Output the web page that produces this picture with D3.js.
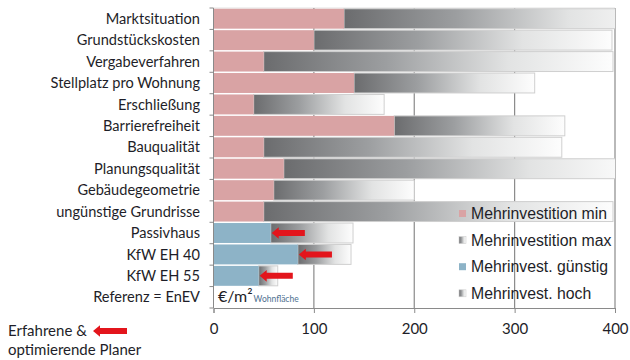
<!DOCTYPE html>
<html>
<head>
<meta charset="utf-8">
<script src="https://cdn.jsdelivr.net/npm/d3@7"></script>
<style>
  html, body { margin: 0; padding: 0; background: #fff; }
  svg { display: block; }
</style>
</head>
<body>
<svg id="chart" width="630" height="360"></svg>
<script>
// Categories, top to bottom
const categories = [
  "Marktsituation", "Grundstückskosten", "Vergabeverfahren", "Stellplatz pro Wohnung",
  "Erschließung", "Barrierefreiheit", "Bauqualität", "Planungsqualität",
  "Gebäudegeometrie", "ungünstige Grundrisse", "Passivhaus", "KfW EH 40",
  "KfW EH 55", "Referenz = EnEV"
];
// Extra cost in €/m² living area (upper end of each bar)
const costMinCats = categories.slice(0, 10);
const costMin  = [130, 100, 50, 140, 40, 180, 50, 70, 60, 50];
const costMax  = [450, 397, 398, 320, 170, 350, 347, 420, 200, 398];
const energyCats = ["Passivhaus", "KfW EH 40", "KfW EH 55"];
const costLow  = [57, 84, 45];
const costHigh = [139, 137, 64];
// Where experienced, optimising planners start from (arrow tail)
const plannerFrom = [91, 118, 79];
const xTicks = [0, 100, 200, 300, 400];

const legendItems = [
  { label: "Mehrinvestition min", kind: "pink" },
  { label: "Mehrinvestition max", kind: "grad" },
  { label: "Mehrinvest. günstig", kind: "blue" },
  { label: "Mehrinvest. hoch", kind: "grad" }
];

const PINK = "#d9a3a4", BLUE = "#8db3c7", RED = "#e3151c", INK = "#1e1e28";
const svg = d3.select("#chart");
const pLeft = 213.5, pRight = 615, pTop = 8, pBottom = 308;

const x = d3.scaleLinear().domain([0, 400]).range([pLeft, pRight]);
const y = d3.scaleBand().domain(categories).range([pTop, pBottom]).paddingInner(0.07).paddingOuter(0.035);
const step = y.step();

const defs = svg.append("defs");
const grad = defs.append("linearGradient").attr("id", "grayGrad")
  .attr("x1", "0%").attr("x2", "100%").attr("y1", "0%").attr("y2", "0%");
[[0, "#6b6c6e"], [0.35, "#9c9ea0"], [0.7, "#e2e3e3"], [1, "#fdfdfd"]].forEach(([o, c]) =>
  grad.append("stop").attr("offset", o).attr("stop-color", c));
defs.append("clipPath").attr("id", "plotClip").append("rect")
  .attr("x", pLeft).attr("y", pTop - 2).attr("width", pRight - pLeft).attr("height", pBottom - pTop + 4);

// Plot frame and vertical gridlines
svg.append("line").attr("x1", pLeft).attr("x2", pRight).attr("y1", pTop).attr("y2", pTop)
  .attr("stroke", "#e2e2e2");
svg.append("g").selectAll("line").data(xTicks.slice(1)).join("line")
  .attr("x1", d => x(d)).attr("x2", d => x(d)).attr("y1", pTop).attr("y2", pBottom)
  .attr("stroke", "#8a8a8a").attr("stroke-width", 1.2);

const bars = svg.append("g").attr("clip-path", "url(#plotClip)");

// Max / high gradient bars (drawn from the lower value to the upper value)
bars.selectAll("rect.max").data(costMinCats).join("rect")
  .attr("x", (d, i) => x(costMin[i]))
  .attr("y", d => y(d))
  .attr("width", (d, i) => x(costMax[i]) - x(costMin[i]))
  .attr("height", y.bandwidth())
  .attr("fill", "url(#grayGrad)").attr("stroke", "#cfcfcf");
bars.selectAll("rect.min").data(costMinCats).join("rect")
  .attr("x", x(0)).attr("y", d => y(d))
  .attr("width", (d, i) => x(costMin[i]) - x(0))
  .attr("height", y.bandwidth()).attr("fill", PINK);

bars.selectAll("rect.high").data(energyCats).join("rect")
  .attr("x", (d, i) => x(costLow[i]))
  .attr("y", d => y(d))
  .attr("width", (d, i) => x(costHigh[i]) - x(costLow[i]))
  .attr("height", y.bandwidth())
  .attr("fill", "url(#grayGrad)").attr("stroke", "#cfcfcf");
bars.selectAll("rect.low").data(energyCats).join("rect")
  .attr("x", x(0)).attr("y", d => y(d))
  .attr("width", (d, i) => x(costLow[i]) - x(0))
  .attr("height", y.bandwidth()).attr("fill", BLUE);

// Red arrow pointing left from x0 to x1 at height cy
function arrow(g, x0, x1, cy) {
  const shaft = 3, head = 5.8, headLen = 7;
  g.append("path")
    .attr("d", `M${x0},${cy - shaft} L${x1 + headLen},${cy - shaft} L${x1 + headLen},${cy - head}
                L${x1},${cy} L${x1 + headLen},${cy + head} L${x1 + headLen},${cy + shaft}
                L${x0},${cy + shaft} Z`)
    .attr("fill", RED);
}
const arrows = svg.append("g");
energyCats.forEach((c, i) => arrow(arrows, x(plannerFrom[i]), x(costLow[i]) + 1, y(c) + y.bandwidth() / 2));

// Axes
const yAxis = svg.append("g").attr("transform", `translate(${pLeft},0)`);
yAxis.append("line").attr("x1", 0).attr("x2", 0).attr("y1", pTop).attr("y2", pBottom).attr("stroke", "#8a8a8a");
yAxis.selectAll("line.tick").data(d3.range(categories.length + 1)).join("line")
  .attr("x1", -4).attr("x2", 0)
  .attr("y1", i => pTop + i * step).attr("y2", i => pTop + i * step)
  .attr("stroke", "#8a8a8a");
svg.append("g").selectAll("text").data(categories).join("text")
  .attr("x", 200).attr("y", d => y(d) + y.bandwidth() / 2)
  .attr("dy", "0.35em").attr("text-anchor", "end")
  .attr("font-family", "Lato, sans-serif").attr("font-size", 14.6).attr("fill", INK)
  .text(d => d);

const xAxis = svg.append("g").attr("transform", `translate(0,${pBottom})`)
  .call(d3.axisBottom(x).tickValues(xTicks).tickSize(5).tickPadding(10).tickFormat(d3.format("d")));
xAxis.select(".domain").attr("stroke", "#8a8a8a");
xAxis.selectAll(".tick line").attr("stroke", "#8a8a8a");
xAxis.selectAll(".tick text").attr("font-family", "Lato, sans-serif").attr("font-size", 15).attr("fill", INK);

// Unit label
const unit = svg.append("text").attr("x", 218).attr("y", 302)
  .attr("font-family", "Lato, sans-serif").attr("fill", INK);
unit.append("tspan").attr("font-size", 16).text("€/m²");
unit.append("tspan").attr("font-size", 8.5).attr("fill", "#4d6f8f").attr("dx", 1).text("Wohnfläche");

// Legend
const lg = svg.append("g");
legendItems.forEach((it, i) => {
  const ly = 213.5 + i * 26.6;
  lg.append("rect").attr("x", 459).attr("y", ly - 3.5).attr("width", 7).attr("height", 7)
    .attr("fill", it.kind === "pink" ? PINK : it.kind === "blue" ? BLUE : "url(#grayGrad)")
    .attr("stroke", it.kind === "grad" ? "#cfcfcf" : "none").attr("stroke-width", 0.6);
  lg.append("text").attr("x", 471).attr("y", ly).attr("dy", "0.36em")
    .attr("font-family", "Liberation Sans, Arial, sans-serif").attr("font-size", 15.8)
    .attr("fill", INK).text(it.label);
});

// Note on the arrows
const note = svg.append("g").attr("font-family", "Lato, sans-serif").attr("font-size", 15).attr("fill", INK);
note.append("text").attr("x", 8).attr("y", 336).text("Erfahrene &");
note.append("text").attr("x", 8).attr("y", 355).text("optimierende Planer");
arrow(svg.append("g"), 127, 93, 331);
</script>
</body>
</html>
